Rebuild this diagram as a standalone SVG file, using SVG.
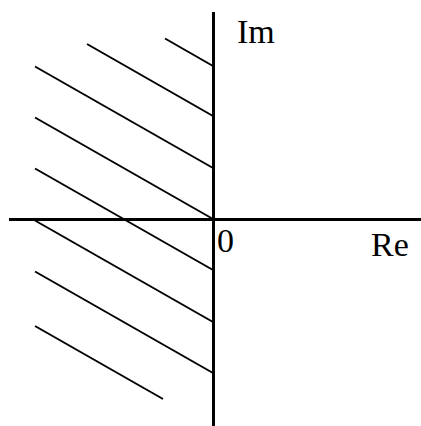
<svg xmlns="http://www.w3.org/2000/svg" width="421" height="426" viewBox="0 0 421 426">
<style>
.axis{stroke:#000;stroke-width:3;fill:none}
.hatch{stroke:#000;stroke-width:2;fill:none}
.lbl{font-family:"Liberation Serif","Times New Roman",serif;font-size:34px;fill:#000}
</style>
<rect width="421" height="426" fill="#fff"/>
<g id="connectors">
<g id="hatching">
<line class="hatch" x1="165" y1="38.5" x2="213" y2="66"/>
<line class="hatch" x1="87" y1="44" x2="213" y2="116"/>
<line class="hatch" x1="35" y1="66.5" x2="213" y2="168"/>
<line class="hatch" x1="35" y1="117.5" x2="213" y2="219"/>
<line class="hatch" x1="35" y1="168.5" x2="213" y2="270"/>
<line class="hatch" x1="35" y1="220.5" x2="213" y2="322"/>
<line class="hatch" x1="35" y1="271.5" x2="213" y2="373"/>
<line class="hatch" x1="35" y1="326" x2="163" y2="399"/>
</g>
<line id="re-axis" class="axis" x1="9" y1="219.5" x2="421" y2="219.5"/>
<line id="im-axis" class="axis" x1="213.5" y1="12" x2="213.5" y2="426"/>
</g>
<g id="label-im"><text class="lbl" x="237" y="43">Im</text></g>
<g id="label-0"><text class="lbl" x="217" y="252">0</text></g>
<g id="label-re"><text class="lbl" x="371" y="256">Re</text></g>
</svg>
